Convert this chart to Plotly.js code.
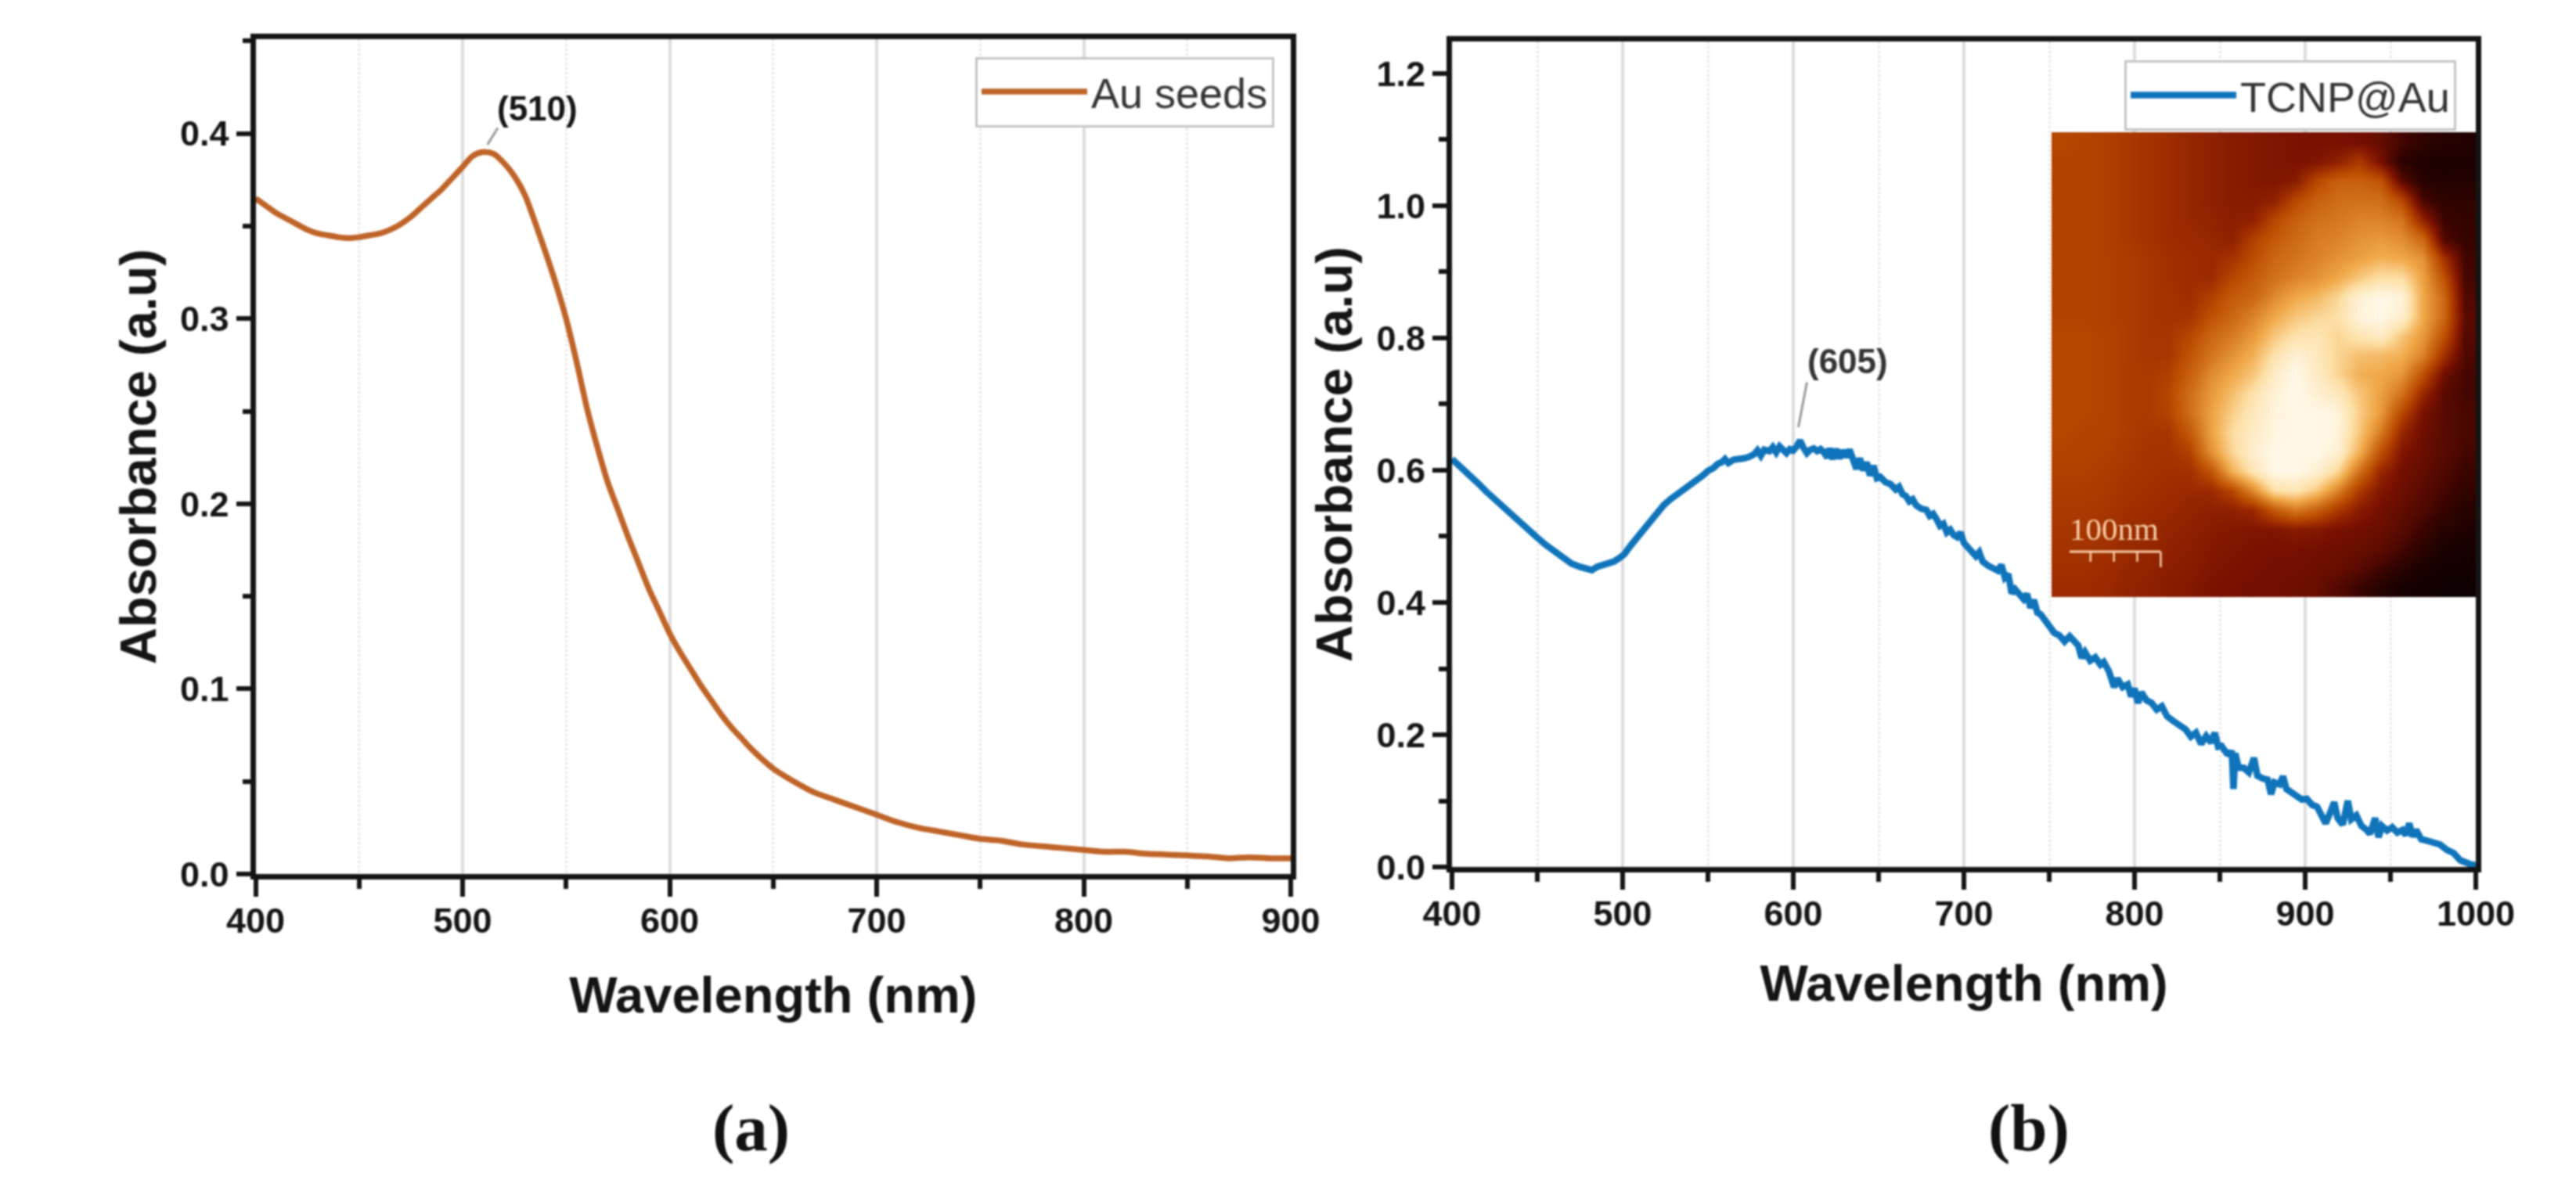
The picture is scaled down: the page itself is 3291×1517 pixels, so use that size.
<!DOCTYPE html>
<html><head><meta charset="utf-8">
<script src="https://cdn.plot.ly/plotly-3.0.1.min.js"></script>
<style>html,body{margin:0;padding:0;background:#fff;overflow:hidden}#c{width:3291px;height:1517px;filter:blur(1.1px)}</style>
</head><body><div id="c"></div><script>
const waveA=[400,405,410,415,420,425,430,435,440,445,450,455,460,465,470,475,480,485,490,495,500,505,510,515,520,525,530,535,540,545,550,555,560,565,570,575,580,585,590,595,600,605,610,615,620,625,630,635,640,650,660,670,680,690,700,710,720,730,740,750,760,770,780,790,800,810,820,830,840,850,860,870,880,890,900];
const absA=[.365,.361,.357,.354,.351,.348,.346,.345,.344,.3435,.344,.345,.346,.348,.351,.355,.360,.365,.370,.376,.382,.388,.390,.389,.384,.377,.367,.352,.336,.319,.300,.277,.252,.231,.212,.197,.182,.168,.154,.142,.130,.120,.111,.102,.094,.086,.079,.073,.067,.057,.050,.044,.040,.036,.032,.028,.025,.023,.021,.019,.018,.016,.015,.014,.013,.012,.012,.011,.0105,.010,.0095,.0085,.009,.0085,.0085];
const waveB=[400,405,410,415,420,425,430,435,440,445,450,455,460,465,470,475,478,482,485,488,491,495,498,501,505,509,513,517,520,524,528,532,536,540,544,547,550,553,556,558,560,562,565,568,571,574,577,579,581,583,586,588,590,592,594,596,598,600,602,604,606,608,610,612,614,616,618,620,621,623,625,627,629,631,633,635,637,639,641,643,645,647,649,651,654,657,660,662,664,666,668,670,672,675,678,680,682,684,686,688,690,692,694,696,698,700,703,705,707,709,711,714,717,720,722,724,726,728,730,733,735,737,739,741,743,745,748,750,753,756,759,762,765,767,769,771,774,777,780,782,785,788,790,793,796,798,800,802,804,807,810,813,816,819,822,826,830,833,836,839,842,845,847,849,851,854,856,857,858,859,861,864,867,870,872,875,878,880,882,885,887,889,892,895,898,901,904,907,910,912,914,917,919,922,925,927,930,933,936,938,941,943,945,948,951,954,957,959,961,963,965,968,971,975,979,983,987,991,995,998,1000];
const absB=[.617,.606,.594,.581,.568,.556,.544,.532,.519,.509,.498,.487,.477,.467,.459,.454,.451,.449,.454,.456,.459,.462,.467,.473,.487,.500,.514,.525,.538,.547,.556,.563,.572,.580,.587,.592,.599,.603,.610,.612,.617,.611,.616,.616,.618,.620,.624,.630,.622,.631,.629,.635,.627,.636,.631,.626,.632,.630,.636,.645,.634,.626,.631,.633,.629,.632,.627,.619,.633,.617,.632,.618,.630,.620,.631,.614,.602,.618,.600,.612,.592,.607,.588,.590,.582,.579,.571,.575,.564,.561,.553,.556,.547,.542,.540,.531,.534,.526,.516,.519,.506,.510,.502,.499,.506,.490,.482,.477,.470,.476,.462,.456,.453,.448,.457,.438,.443,.414,.420,.412,.405,.413,.392,.404,.385,.382,.370,.366,.354,.350,.341,.349,.340,.335,.316,.325,.312,.317,.306,.310,.296,.272,.285,.272,.276,.258,.270,.248,.264,.252,.248,.238,.243,.228,.222,.216,.208,.197,.203,.186,.198,.188,.203,.182,.183,.172,.170,.176,.118,.172,.150,.150,.143,.165,.138,.134,.132,.110,.128,.125,.137,.118,.112,.106,.102,.103,.094,.091,.078,.066,.078,.098,.074,.064,.100,.072,.078,.062,.056,.050,.074,.045,.062,.055,.060,.052,.056,.048,.066,.046,.056,.042,.040,.038,.034,.026,.021,.010,.005,.003,.004];
const afmHeights=[
[42,41,40,38,36,34,32,30,28,27,26,25,24,24,23,20,14,9,7,6],
[41,41,40,38,36,34,32,30,28,27,26,25,26,30,38,24,8,5,4,5],
[41,41,40,38,36,34,32,30,28,27,26,28,42,50,50,46,18,7,6,6],
[41,41,40,38,36,34,32,30,28,28,30,42,50,54,55,54,42,14,9,9],
[41,41,40,38,36,34,32,31,29,30,42,50,55,57,60,60,56,30,12,10],
[41,41,40,38,36,34,33,32,30,40,48,53,58,60,64,66,63,52,16,11],
[41,41,40,39,37,35,34,33,36,44,52,56,60,64,68,72,70,64,35,13],
[41,41,40,39,37,35,34,33,42,48,55,60,64,70,78,85,84,68,45,14],
[41,41,40,39,37,36,34,40,48,52,62,70,74,82,95,100,96,70,52,16],
[41,41,40,39,37,36,36,45,52,60,70,78,82,85,97,100,94,70,52,18],
[42,42,41,39,37,37,42,52,58,66,78,86,88,82,88,92,78,66,45,17],
[42,42,41,39,37,37,46,56,64,72,86,95,90,82,76,75,72,60,35,16],
[42,42,41,39,38,40,50,62,70,78,92,100,92,82,72,70,65,45,22,14],
[42,42,41,39,38,42,54,66,76,86,96,100,95,90,78,68,55,32,18,14],
[42,42,41,39,38,41,54,68,80,90,97,100,100,97,80,66,42,24,18,15],
[42,41,41,39,37,37,48,68,84,92,98,100,100,97,78,58,32,22,18,15],
[41,41,40,38,36,36,40,64,82,94,100,100,100,95,72,45,26,21,18,14],
[40,40,39,37,36,35,35,46,72,88,100,100,95,82,55,32,23,20,16,12],
[39,39,38,36,35,34,33,33,42,62,85,88,78,60,38,26,22,18,14,10],
[38,38,37,35,34,33,31,30,30,33,48,58,50,38,28,23,20,16,11,7],
[37,37,36,34,33,31,30,28,27,26,26,28,27,24,23,21,18,12,7,5],
[36,36,35,33,32,30,29,27,26,25,24,24,23,22,21,19,14,8,4,3],
[35,35,34,32,31,29,28,26,25,24,23,23,22,21,18,13,8,4,2,2],
[34,34,33,31,30,28,27,25,24,23,23,22,21,17,12,7,3,2,1,1]];
const xTicksA=[400,500,600,700,800,900], xTicksB=[400,500,600,700,800,900,1000];
const yTicksA=[0,.1,.2,.3,.4], yLabelsA=['0.0','0.1','0.2','0.3','0.4'];
const yTicksB=[0,.2,.4,.6,.8,1,1.2], yLabelsB=['0.0','0.2','0.4','0.6','0.8','1.0','1.2'];
const W=3291,H=1517;
const fx=p=>p/W, fy=p=>1-p/H;
const SANS='"Liberation Sans",Arial,sans-serif', SERIF='"Liberation Serif",serif', INK='#141414';
function xAxis(d,r,tv,anchor,sd){return {domain:[fx(d[0]),fx(d[1])],range:r,anchor:anchor,tickmode:'array',tickvals:tv,ticktext:tv.map(String),
 ticks:'outside',ticklen:22,tickwidth:6,tickcolor:INK,linecolor:INK,linewidth:7,mirror:true,zeroline:false,ticklabelstandoff:-8,
 tickfont:{family:SANS,size:45,color:INK,weight:'bold'},showgrid:true,gridcolor:'#dcdcdc',gridwidth:4,
 minor:{dtick:50,ticks:'outside',ticklen:12,tickwidth:6,tickcolor:INK,showgrid:true,gridcolor:'#e6e6e6',griddash:'dot',gridwidth:3},
 title:{text:'Wavelength (nm)',standoff:sd,font:{family:SANS,size:65,color:INK,weight:'bold'}}};}
function yAxis(d,r,tv,tl,anchor,md,sd){return {domain:[fy(d[1]),fy(d[0])],range:r,anchor:anchor,tickmode:'array',tickvals:tv,ticktext:tl,
 ticks:'outside',ticklen:18,tickwidth:6,tickcolor:INK,linecolor:INK,linewidth:7,mirror:true,zeroline:false,showgrid:false,
 tickfont:{family:SANS,size:45,color:INK,weight:'bold'},minor:{dtick:md,ticks:'outside',ticklen:10,tickwidth:6,tickcolor:INK,showgrid:false},
 title:{text:'Absorbance (a.u)',standoff:sd,font:{family:SANS,size:65,color:INK,weight:'bold'}}};}
const traces=[
{x:waveA,y:absA,mode:'lines',name:'Au seeds',line:{color:'#bf6428',width:7.5,shape:'spline',smoothing:.8},xaxis:'x',yaxis:'y',legend:'legend'},
{z:afmHeights,type:'heatmap',zsmooth:'best',showscale:false,zmin:0,zmax:100,xaxis:'x3',yaxis:'y3',hoverinfo:'skip',
 colorscale:[[0,'#0a0000'],[.12,'#3a0400'],[.25,'#7c1200'],[.35,'#a03000'],[.43,'#b84a00'],[.55,'#d0701a'],[.7,'#f0a848'],[.85,'#fde0a8'],[1,'#fff8e8']]},
{x:waveB,y:absB,mode:'lines',name:'TCNP@Au',line:{color:'#1074bb',width:8.5},xaxis:'x2',yaxis:'y2',legend:'legend2'}
];
const legendBase={xanchor:'left',yanchor:'top',bgcolor:'#fff',bordercolor:'#c4c4c4',borderwidth:3,itemwidth:135,font:{family:SANS,size:54,color:'#333'}};
const barColor='#f7cfa8';
const line=(xr,yr,x0,y0,x1,y1,c,w)=>({type:'line',xref:xr,yref:yr,x0,y0,x1,y1,layer:'above',line:{color:c,width:w}});
const note=(xr,yr,x,y,text,font)=>({xref:xr,yref:yr,x,y,text,showarrow:false,xanchor:'center',yanchor:'middle',font});
const layout={width:W,height:H,margin:{l:0,r:0,t:0,b:0},paper_bgcolor:'#fff',plot_bgcolor:'#fff',showlegend:true,
 xaxis:xAxis([326.5,1649],[400,900],xTicksA,'y',50),
 yaxis:yAxis([50,1117],[0,.451],yTicksA,yLabelsA,'x',.05,12),
 xaxis2:xAxis([1855,3163],[400,1000],xTicksB,'y2',44),
 yaxis2:yAxis([53,1108],[0,1.2485],yTicksB,yLabelsB,'x2',.1,12),
 xaxis3:{domain:[fx(2621),fx(3163)],range:[-.5,19.5],anchor:'y3',visible:false},
 yaxis3:{domain:[fy(763),fy(169)],range:[23.5,-.5],anchor:'x3',visible:false},
 legend:Object.assign({},legendBase,{x:fx(1246),y:fy(72.5)}),
 legend2:Object.assign({},legendBase,{x:fx(2714),y:fy(77)}),
 shapes:[
  line('x','y',512,.394,517,.403,'#999',3),
  line('x2','y2',603,.665,608,.733,'#999',3),
  line('x3','y3',.346,21.16,4.647,21.16,barColor,3),
  line('x3','y3',1.338,21.16,1.338,21.68,barColor,2.5),
  line('x3','y3',2.44,21.16,2.44,21.68,barColor,2.5),
  line('x3','y3',3.54,21.16,3.54,21.68,barColor,2.5),
  line('x3','y3',4.647,21.16,4.647,21.96,barColor,2.5)
 ],
 annotations:[
  note('x','y',536,.4135,'(510)',{family:SANS,size:44,color:INK,weight:'bold'}),
  note('x2','y2',631.8,.765,'(605)',{family:SANS,size:44,color:'#333',weight:'bold'}),
  note('x3','y3',2.45,20.0,'100nm',{family:SERIF,size:41,color:barColor}),
  note('paper','paper',fx(960),fy(1441),'(a)',{family:SERIF,size:85,color:'#111',weight:'bold'}),
  note('paper','paper',fx(2592),fy(1441),'(b)',{family:SERIF,size:85,color:'#111',weight:'bold'})
 ]};
Plotly.newPlot('c',traces,layout,{displayModeBar:false,staticPlot:true});
</script></body></html>
